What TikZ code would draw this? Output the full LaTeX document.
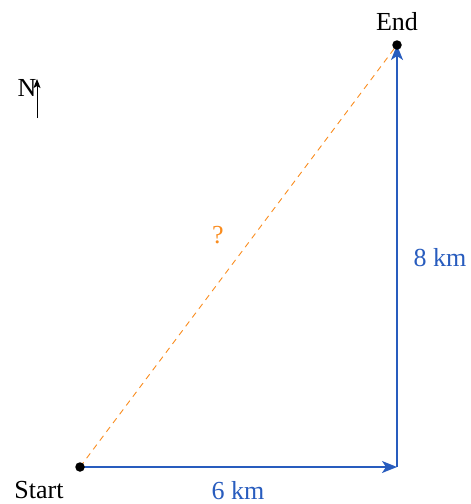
\documentclass[tikz,border=0pt]{standalone}
\usepackage{fontspec}
\setmainfont{Liberation Serif}
\usetikzlibrary{arrows.meta}
\definecolor{vblue}{RGB}{40,92,190}
\definecolor{vorange}{RGB}{250,140,30}
\begin{document}
\begin{tikzpicture}[x=1pt,y=-1pt,
  lbl/.style={font=\fontsize{26}{30}\selectfont, inner sep=0pt},
  vec/.style={vblue, line width=1.8pt, -{Stealth[length=15pt,width=12pt,inset=4pt]}},
  dot/.style={circle, fill=black, inner sep=0pt, minimum size=9.5pt}]
\useasboundingbox (0,0) rectangle (471,504);
\coordinate (s) at (80,467);
\coordinate (c) at (397,467);
\coordinate (e) at (397,45);
\draw[vorange, line width=0.9pt, dash pattern=on 6pt off 5pt] (s) -- (e);
\draw[vec] (s) -- (c);
\draw[vec] (c) -- (e);
\node[dot] (sd) at (s) {};
\node[dot] (ed) at (e) {};
\node[lbl] (st) at (39,490) {Start};
\node[lbl] (en) at (397,22) {End};
\node[lbl, vblue] (six) at (238,491) {6 km};
\node[lbl, vblue] (eight) at (440,258) {8 km};
\node[lbl, vorange] (q) at (218,235) {?};
\coordinate (n0) at (37,118);
\coordinate (n1) at (37,79);
\draw[line width=0.9pt, -{Stealth[length=9pt,width=7pt,inset=2pt]}] (n0) -- (n1);
\node[lbl] (N) at (27,88) {N};
\end{tikzpicture}
\end{document}
